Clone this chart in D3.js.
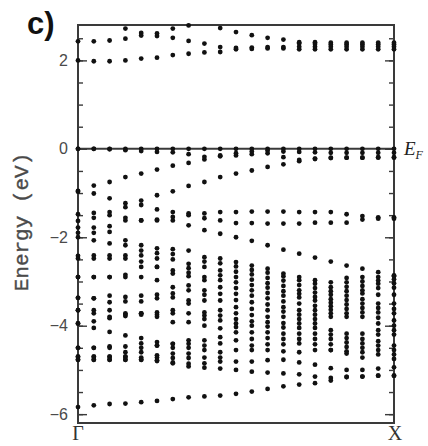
<!DOCTYPE html>
<html><head><meta charset="utf-8">
<script src="https://cdn.jsdelivr.net/npm/d3@7"></script>
<style>body{margin:0;background:#fff}</style>
</head><body><svg id="c" width="428" height="446"></svg>
<script>
// k-points along Γ–X (index 0 = Γ, 20 = X)
const kIndex = [0,1,2,3,4,5,6,7,8,9,10,11,12,13,14,15,16,17,18,19,20];
const xLabels = ["Γ","X"];
const yTickLabels = [2,0,-2,-4,-6];

// Energies in eV (null = outside the plotted window)
const conductionBands = [
  [2.00,1.98,1.98,2.00,2.04,2.06,2.12,2.15,2.18,2.19,2.25,2.26,2.27,2.27,2.25,2.25,2.25,2.25,2.25,2.25,2.25],
  [2.43,2.43,2.45,2.49,2.62,2.61,2.51,2.44,2.38,2.30,2.28,2.29,2.30,2.30,2.31,2.31,2.31,2.31,2.31,2.31,2.31],
  [null,null,null,2.72,null,null,2.72,2.79,null,2.73,2.64,2.57,2.51,2.47,2.38,2.37,2.36,2.36,2.36,2.36,2.36],
  [null,null,null,null,2.56,2.55,null,null,null,null,null,null,null,null,2.41,2.41,2.40,2.40,2.40,2.40,2.40]
];
const upperValenceBands = [
  [0,0,0,0,0,0,0,0,0,0,0,0,0,0,0,0,0,0,0,0,0],
  [0,0,-0.01,-0.03,-0.05,-0.07,-0.08,-0.12,-0.18,-0.15,-0.15,-0.12,-0.10,-0.19,-0.25,-0.22,-0.20,-0.20,-0.20,-0.20,-0.20],
  [-0.95,-0.83,-0.75,-0.64,-0.56,-0.47,-0.38,-0.32,-0.24,-0.17,-0.10,-0.06,-0.04,-0.06,-0.07,-0.08,-0.09,-0.09,-0.09,-0.09,-0.09],
  [-0.97,-1.01,-1.12,-1.23,-1.17,-1.05,-0.96,-0.84,-0.75,-0.64,-0.56,-0.49,-0.41,-0.35,-0.28,-0.23,-0.21,-0.20,-0.20,-0.19,-0.19]
];
const middleValenceBands = [
  [-1.48,-1.45,-1.43,-1.32,-1.27,-1.37,-1.43,-1.46,-1.46,-1.43,-1.43,-1.42,-1.42,-1.42,-1.43,-1.43,-1.43,-1.48,-1.52,-1.55,-1.55],
  [-1.63,-1.56,-1.50,-1.56,-1.62,-1.62,-1.54,-1.50,-1.57,-1.62,-1.68,-1.68,-1.69,-1.69,-1.69,-1.67,-1.67,-1.67,-1.60,-1.58,-1.58],
  [-1.78,-1.78,-1.75,-1.62,-1.62,-1.60,-1.62,-1.73,-1.84,-1.92,-2.00,-2.08,-2.18,-2.28,-2.37,-2.46,-2.55,-2.64,-2.71,-2.79,-2.86],
  [-1.90,-1.90,-1.88,-2.07,-2.18,-2.25,-2.27,-2.30,-2.45,-2.48,-2.56,-2.64,-2.71,-2.82,-2.90,-2.97,-3.02,-2.92,-2.90,-2.90,-2.88],
  [-2.00,-2.07,-2.14,-2.18,-2.30,-2.36,-2.38,-2.60,-2.55,-2.59,-2.66,-2.74,-2.80,-2.88,-2.97,-3.05,-3.13,-3.02,-3.00,-2.98,-2.95]
];
const deepValenceBands = [
  [-2.42,-2.41,-2.41,-2.41,-2.41,-2.48,-2.50,-2.70,-2.67,-2.75,-2.78,-2.84,-2.92,-2.98,-3.08,-3.15,-3.22,-3.12,-3.10,-3.05,-3.04],
  [-2.48,-2.48,-2.48,-2.48,-2.55,-2.67,-2.75,-2.80,-2.90,-2.86,-2.90,-2.96,-3.04,-3.10,-3.20,-3.25,-3.30,-3.22,-3.20,-3.15,-3.14],
  [-2.90,-2.90,-2.90,-2.85,-2.67,-2.67,-2.82,-2.88,-2.97,-2.97,-3.02,-3.08,-3.14,-3.22,-3.28,-3.35,-3.40,-3.32,-3.27,-3.30,-3.30],
  [-2.90,-2.90,-2.90,-2.90,-2.90,-2.97,-3.13,-3.09,-3.20,-3.13,-3.15,-3.20,-3.26,-3.32,-3.36,-3.43,-3.48,-3.42,-3.40,-3.50,-3.50],
  [-3.37,-3.38,-3.32,-3.35,-3.32,-3.30,-3.27,-3.20,-3.30,-3.28,-3.28,-3.32,-3.38,-3.45,-3.50,-3.55,-3.56,-3.52,-3.50,-3.60,-3.62],
  [-3.37,-3.38,-3.47,-3.45,-3.45,-3.38,-3.36,-3.43,-3.43,-3.43,-3.42,-3.47,-3.52,-3.58,-3.65,-3.65,-3.64,-3.62,-3.60,-3.70,-3.72],
  [-3.65,-3.65,-3.65,-3.72,-3.72,-3.70,-3.65,-3.50,-3.70,-3.65,-3.58,-3.62,-3.65,-3.68,-3.75,-3.75,-3.72,-3.72,-3.70,-3.82,-3.88],
  [-3.65,-3.72,-3.80,-3.78,-3.72,-3.80,-3.72,-3.72,-3.77,-3.77,-3.72,-3.76,-3.80,-3.80,-3.85,-3.85,-3.80,-3.80,-3.80,-3.95,-4.00],
  [-3.95,-3.90,-3.83,-3.75,-3.75,-3.75,-3.92,-3.92,-3.85,-3.88,-3.85,-3.90,-3.92,-3.94,-3.95,-3.95,-4.10,-4.18,-4.18,-4.10,-4.10],
  [-3.95,-4.05,-4.14,-4.22,-4.28,-4.37,-4.41,-4.33,-4.00,-4.06,-3.95,-4.00,-4.02,-4.04,-4.05,-4.05,-4.20,-4.28,-4.30,-4.20,-4.20],
  [-4.50,-4.50,-4.47,-4.47,-4.40,-4.45,-4.41,-4.41,-4.33,-4.26,-4.03,-4.15,-4.15,-4.18,-4.18,-4.18,-4.30,-4.38,-4.40,-4.35,-4.45],
  [-4.50,-4.50,-4.50,-4.60,-4.50,-4.45,-4.50,-4.50,-4.45,-4.40,-4.15,-4.30,-4.28,-4.30,-4.30,-4.30,-4.42,-4.48,-4.50,-4.45,-4.55],
  [-4.70,-4.70,-4.70,-4.70,-4.60,-4.67,-4.63,-4.63,-4.55,-4.60,-4.33,-4.45,-4.42,-4.42,-4.40,-4.42,-4.55,-4.58,-4.60,-4.55,-4.65],
  [-4.70,-4.70,-4.70,-4.70,-4.72,-4.72,-4.73,-4.73,-4.72,-4.72,-4.55,-4.55,-4.55,-4.58,-4.60,-4.55,-4.55,-4.63,-4.72,-4.65,-4.75],
  [-4.77,-4.77,-4.77,-4.77,-4.77,-4.78,-4.83,-4.86,-4.85,-4.81,-4.81,-4.81,-4.78,-4.77,-4.83,-4.88,-4.96,-5.00,-5.00,-4.97,-4.94],
  [-4.77,-4.77,-4.77,-4.77,-4.77,-4.80,-4.85,-4.92,-4.95,-4.97,-5.00,-5.04,-5.06,-5.08,-5.10,-5.15,-5.18,-5.16,-5.15,-5.13,-5.13],
  [-5.84,-5.80,-5.77,-5.76,-5.73,-5.70,-5.66,-5.62,-5.60,-5.58,-5.54,-5.49,-5.43,-5.37,-5.33,-5.30,-5.24,-5.16,-5.15,-5.13,-5.13]
];

const svg = d3.select("#c");
const x = d3.scaleLinear().domain([0, 20]).range([78, 394]);
const y = d3.scaleLinear().domain([-6.2, 2.8]).range([423, 25]);

const axisColor = "#3a3a3a";

const minorTicks = y.ticks(18);
function styleAxis(g) {
  g.select(".domain").remove();
  g.selectAll(".tick line").attr("stroke", axisColor).attr("stroke-width", 1.4);
}
svg.append("g").attr("transform", "translate(78,0)")
  .call(d3.axisLeft(y).tickValues(minorTicks).tickSize(-5).tickFormat(""))
  .call(styleAxis);
svg.append("g").attr("transform", "translate(78,0)")
  .call(d3.axisLeft(y).tickValues(yTickLabels).tickSize(-9).tickPadding(10))
  .call(styleAxis)
  .call(g => g.selectAll(".tick text")
    .attr("font-family", "'Liberation Sans', Arial, sans-serif")
    .attr("font-size", 16).attr("fill", "#4a4a4a"));
svg.append("g").attr("transform", "translate(394,0)")
  .call(d3.axisRight(y).tickValues(minorTicks).tickSize(-5).tickFormat(""))
  .call(styleAxis);
svg.append("g").attr("transform", "translate(394,0)")
  .call(d3.axisRight(y).tickValues(yTickLabels).tickSize(-9).tickFormat(""))
  .call(styleAxis);

svg.append("rect").attr("x", x(0)).attr("y", y(2.8))
  .attr("width", x(20) - x(0)).attr("height", y(-6.2) - y(2.8))
  .attr("fill", "none").attr("stroke", axisColor).attr("stroke-width", 2);

svg.append("line").attr("x1", x(0)).attr("x2", x(20))
  .attr("y1", y(0)).attr("y2", y(0))
  .attr("stroke", axisColor).attr("stroke-width", 2);

const allBands = [].concat(conductionBands, upperValenceBands, middleValenceBands, deepValenceBands);
const pts = [];
allBands.forEach(b => b.forEach((v, i) => {
  if (v !== null && v <= 2.8 && v >= -6.2) pts.push({k: kIndex[i], e: v});
}));
svg.append("g").selectAll("circle").data(pts).join("circle")
  .attr("cx", d => x(d.k)).attr("cy", d => y(d.e))
  .attr("r", 2.4).attr("fill", "#111");

svg.append("text").attr("x", 27).attr("y", 34)
  .attr("font-family", "'Liberation Sans', Arial, sans-serif")
  .attr("font-weight", "bold").attr("font-size", 31).attr("fill", "#111")
  .text("c)");

svg.append("text").attr("transform", "translate(28,222) rotate(-90)")
  .attr("text-anchor", "middle")
  .attr("font-family", "'Liberation Mono', 'Courier New', monospace")
  .attr("font-size", 21).attr("fill", "#4a4a4a")
  .attr("stroke", "#4a4a4a").attr("stroke-width", 0.4)
  .text("Energy (eV)");

svg.append("g").selectAll("text").data(xLabels).join("text")
  .attr("x", (d, i) => x(i === 0 ? 0 : 20) + (i === 0 ? 0 : 1))
  .attr("y", 440).attr("text-anchor", "middle")
  .attr("font-family", "'Liberation Serif', 'Times New Roman', serif")
  .attr("font-size", 20).attr("fill", "#333")
  .text(d => d);

const ef = svg.append("text").attr("x", 404).attr("y", y(0) + 6)
  .attr("font-family", "'Liberation Serif', 'Times New Roman', serif")
  .attr("font-style", "italic").attr("fill", "#222");
ef.append("tspan").attr("font-size", 19).text("E");
ef.append("tspan").attr("font-size", 12).attr("dy", 4).text("F");
</script></body></html>
